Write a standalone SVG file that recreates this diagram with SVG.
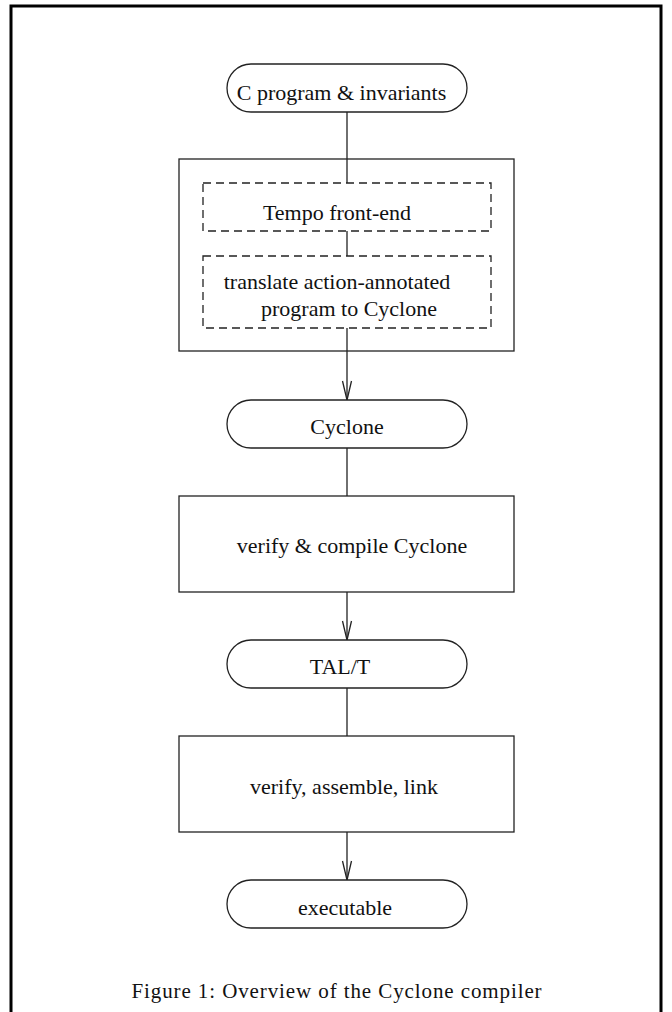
<svg xmlns="http://www.w3.org/2000/svg" width="672" height="1012" viewBox="0 0 672 1012">
<style>
.frame{fill:none;stroke:#000;stroke-width:3}
.n{fill:#fff;stroke:#222;stroke-width:1.3}
.d{fill:none;stroke:#222;stroke-width:1.3;stroke-dasharray:8 5}
.c{fill:none;stroke:#222;stroke-width:1.3}
.t{font-family:"Liberation Serif","Times New Roman",serif;font-size:22px;fill:#111;text-anchor:middle}
.cap{font-family:"Liberation Serif","Times New Roman",serif;font-size:21px;fill:#111;text-anchor:middle;letter-spacing:0.9px}
</style>
<defs>
<marker id="a" markerWidth="22" markerHeight="12" refX="20" refY="6" orient="auto" markerUnits="userSpaceOnUse" viewBox="0 0 22 12">
<path d="M1,1.5 L20,6 L1,10.5" fill="none" stroke="#222" stroke-width="1.3"/>
</marker>
</defs>
<rect x="0" y="0" width="672" height="1012" fill="#fff"/>
<path class="frame" d="M11,1014 V6 H661 V1014"/>
<g id="connectors">
<line class="c" x1="347" y1="112" x2="347" y2="183"/>
<line class="c" x1="347" y1="231" x2="347" y2="256"/>
<line class="c" x1="347" y1="328" x2="347" y2="400" marker-end="url(#a)"/>
<line class="c" x1="347" y1="448" x2="347" y2="496"/>
<line class="c" x1="347" y1="592" x2="347" y2="640" marker-end="url(#a)"/>
<line class="c" x1="347" y1="688" x2="347" y2="736"/>
<line class="c" x1="347" y1="832" x2="347" y2="880" marker-end="url(#a)"/>
</g>
<g id="n-cprog">
<rect class="n" x="227" y="64" width="240" height="48" rx="24" ry="24"/>
<text class="t" x="341.5" y="100">C program &amp; invariants</text>
</g>
<g id="n-outer">
<rect class="c" x="179" y="159" width="335" height="192"/>
</g>
<g id="n-tempo">
<rect class="d" x="203" y="183" width="288" height="48"/>
<text class="t" x="337" y="220">Tempo front-end</text>
</g>
<g id="n-translate">
<rect class="d" x="203" y="256" width="288" height="72"/>
<text class="t" x="337" y="289">translate action-annotated</text>
<text class="t" x="349" y="316">program to Cyclone</text>
</g>
<g id="n-cyclone">
<rect class="n" x="227" y="400" width="240" height="48" rx="24" ry="24"/>
<text class="t" x="347" y="434">Cyclone</text>
</g>
<g id="n-verify1">
<rect class="c" x="179" y="496" width="335" height="96"/>
<text class="t" x="352" y="553">verify &amp; compile Cyclone</text>
</g>
<g id="n-tal">
<rect class="n" x="227" y="640" width="240" height="48" rx="24" ry="24"/>
<text class="t" x="340" y="674">TAL/T</text>
</g>
<g id="n-verify2">
<rect class="c" x="179" y="736" width="335" height="96"/>
<text class="t" x="344" y="794">verify, assemble, link</text>
</g>
<g id="n-exec">
<rect class="n" x="227" y="880" width="240" height="48" rx="24" ry="24"/>
<text class="t" x="345" y="915">executable</text>
</g>
<text class="cap" x="337" y="998">Figure 1: Overview of the Cyclone compiler</text>
</svg>
